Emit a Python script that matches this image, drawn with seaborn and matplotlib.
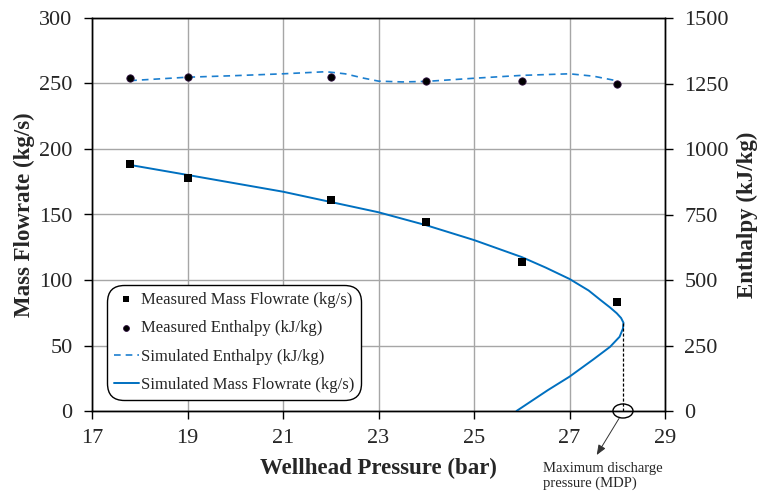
import matplotlib
matplotlib.use("Agg")
import matplotlib.pyplot as plt
import seaborn as sns
import pandas as pd
from matplotlib.patches import Ellipse

# ---- data ----
pressure_meas = [17.8, 19, 22, 24, 26, 28]
flow_meas = [188.8, 178.1, 161, 144.3, 114, 83.4]
enth_meas = [1270, 1275, 1275, 1260, 1260, 1250]

sim_enth_p = [17.8, 19, 20, 21, 21.9, 22.3, 22.7, 23, 23.5, 24, 25, 26, 27, 27.5, 28]
sim_enth = [1261, 1274, 1280, 1287, 1295, 1287, 1270, 1259, 1256, 1258, 1270, 1281, 1287, 1278, 1260]

sim_flow_p = [17.8, 19, 21, 23, 24, 25, 26, 26.5, 27, 27.4, 27.65, 27.85, 27.99,
              28.08, 28.13, 28.12, 28.05, 27.85, 27.5, 27, 26.55, 26.22, 25.89]
sim_flow = [187.8, 180.2, 167.4, 151.7, 141.8, 130.5, 117.5, 109.5, 100.8, 92,
            84.7, 79, 74.6, 71, 67.4, 63, 56.7, 49, 39.4, 26.2, 16, 8, 0]

mdp_pressure = 28.12
mdp_flow = 67.4

x_ticks = [17, 19, 21, 23, 25, 27, 29]
y_left_ticks = [0, 50, 100, 150, 200, 250, 300]
y_right_ticks = [0, 250, 500, 750, 1000, 1250, 1500]

labels = ["Measured Mass Flowrate (kg/s)", "Measured Enthalpy (kJ/kg)",
          "Simulated Enthalpy (kJ/kg)", "Simulated Mass Flowrate (kg/s)"]

meas = pd.DataFrame({"p": pressure_meas, "flow": flow_meas, "enth": enth_meas})
sim_e = pd.DataFrame({"p": sim_enth_p, "enth": sim_enth})
sim_f = pd.DataFrame({"p": sim_flow_p, "flow": sim_flow})

sns.set_theme(style="white")
plt.rcParams["font.family"] = ["Liberation Serif", "DejaVu Serif"]

BLUE = "#0070C0"

fig = plt.figure(figsize=(7.59, 4.98), dpi=100)
ax = fig.add_axes([92 / 759, 1 - 411 / 498, 573 / 759, 393 / 498])
ax2 = ax.twinx()

# left axis: mass flow
sns.lineplot(data=sim_f, x="p", y="flow", sort=False, estimator=None, ax=ax,
             color=BLUE, lw=1.4, label=labels[3], legend=False, zorder=3)
ax.lines[-1].set_solid_joinstyle("round")
sns.scatterplot(data=meas, x="p", y="flow", ax=ax, marker="s", s=30,
                color="black", edgecolor="black", linewidth=0, label=labels[0],
                legend=False, zorder=4)

# right axis: enthalpy
sns.lineplot(data=sim_e, x="p", y="enth", sort=False, estimator=None, ax=ax2,
             color="#1C7FCF", lw=1.2, label=labels[2], legend=False, zorder=3)
ax2.lines[-1].set_linestyle((0, (4, 3)))
sns.scatterplot(data=meas, x="p", y="enth", ax=ax2, marker="o", s=28,
                color="black", edgecolor="#301040", linewidth=0.6, label=labels[1],
                legend=False, zorder=4)

ax.set_xlim(17, 29)
ax.set_ylim(0, 300)
ax2.set_ylim(0, 1500)
ax.set_xticks(x_ticks)
ax.set_yticks(y_left_ticks)
ax2.set_yticks(y_right_ticks)

ax.grid(True, color="#A6A6A6", lw=1.0)
ax2.grid(False)
for a in (ax, ax2):
    for s in a.spines.values():
        s.set_color("black")
        s.set_linewidth(1.0)
ax.tick_params(axis="x", direction="out", length=6, width=1, color="black",
               labelsize=16, pad=7, bottom=True)
ax.tick_params(axis="y", direction="out", length=6, width=1, color="black",
               labelsize=16, pad=8, left=True)
ax2.tick_params(axis="y", direction="out", length=6, width=1, color="black",
                labelsize=16, pad=8, right=True)

ax.set_xlabel("Wellhead Pressure (bar)", fontsize=16.5, fontweight="bold", labelpad=7)
ax.set_ylabel("Mass Flowrate (kg/s)", fontsize=16.5, fontweight="bold", labelpad=3)
ax2.set_ylabel("Enthalpy (kJ/kg)", fontsize=16.5, fontweight="bold", labelpad=6)

# MDP annotation
ax.plot([mdp_pressure, mdp_pressure], [mdp_flow, 0], color="black", lw=0.9,
        ls=(0, (2.5, 1.5)), zorder=3)
ell = Ellipse((mdp_pressure, 0), width=0.42, height=10.7, fill=False,
              edgecolor="black", lw=1.0, clip_on=False, zorder=5)
ax.add_patch(ell)
ax.annotate("", xy=(27.57, -33.6), xytext=(28.04, -5.5), xycoords="data",
            annotation_clip=False,
            arrowprops=dict(arrowstyle="-|>,head_length=0.5,head_width=0.2",
                            color="#333333", lw=0.7, shrinkA=0, shrinkB=0))
ax.text(26.44, -38.8, "Maximum discharge\npressure (MDP)", fontsize=10.5,
        ha="left", va="top", linespacing=1.15, clip_on=False)

# legend
h_map = {}
for a in (ax, ax2):
    hs, ls_ = a.get_legend_handles_labels()
    for h, l in zip(hs, ls_):
        h_map[l] = h
handles = [h_map[l] for l in labels]
leg = ax2.legend(handles, labels, loc="lower left", bbox_to_anchor=(0.026, 0.028),
                 fontsize=12, frameon=True, fancybox=True, framealpha=1,
                 edgecolor="black", facecolor="white", handlelength=1.5,
                 handletextpad=0.15, labelspacing=0.75, borderpad=0.4,
                 borderaxespad=0, markerscale=0.8)
leg.get_frame().set_linewidth(1.0)
leg.get_frame().set_boxstyle("round,pad=0.0,rounding_size=1.0")
leg.set_zorder(10)

fig.savefig("out.png", dpi=100)
